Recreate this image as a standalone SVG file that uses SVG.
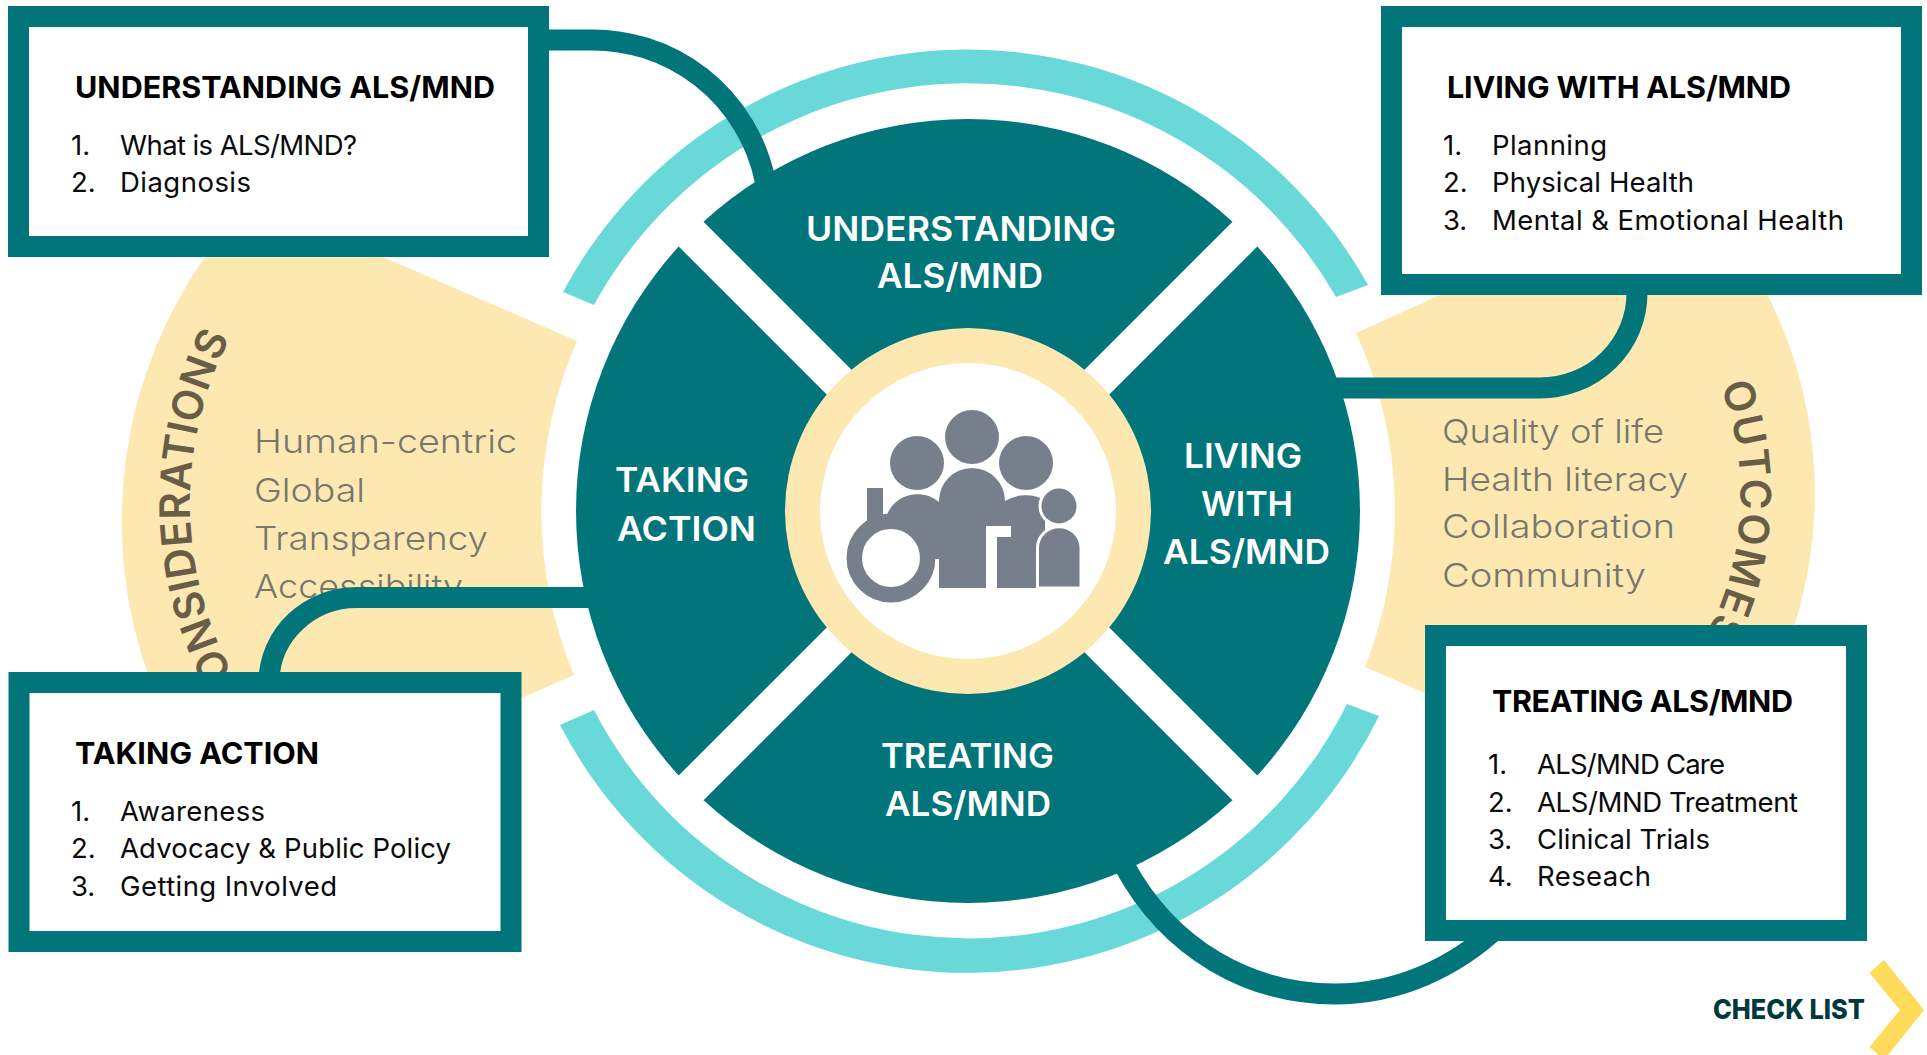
<svg xmlns="http://www.w3.org/2000/svg" width="1927" height="1055" viewBox="0 0 1927 1055">
<style>
text{font-family:Inter,"Noto Sans","Liberation Sans",sans-serif}
.cream{fill:#FEE8B2}
.ring{fill:#69D8D8}
.sector{fill:#01757A}
.disc{fill:#fff;font-size:34px;font-weight:600}
.box{fill:#fff;stroke:#01757A;stroke-width:21}
.title{fill:#000;font-size:30.5px;font-weight:650}
.item{fill:#0a0a0a;font-size:27.5px;font-weight:400}
.soft{fill:#76776D;font-size:33px;font-weight:300}
.curve{fill:#695D47;font-size:42px;font-weight:600}
.conn{fill:none;stroke:#01757A;stroke-width:21}
.icon{fill:#777F8C}
</style>
<defs>
<path id="arcL" d="M297 760A362 362 0 0 1 233 332"/>
<path id="arcR" d="M1718 380A304 304 0 0 1 1661 700"/>
</defs>
<g id="considerations">
<path class="cream" d="M577 341L367 250L210 250A460 460 0 0 0 150 680L505 705L574 675A426 426 0 0 1 577 341Z"/>
<text class="curve" letter-spacing="0.5"><textPath href="#arcL" startOffset="98.700%" text-anchor="end">CONSIDERATIONS</textPath></text>
<text class="soft" x="254" y="453" textLength="263" lengthAdjust="spacingAndGlyphs">Human-centric</text>
<text class="soft" x="254" y="502" textLength="111" lengthAdjust="spacingAndGlyphs">Global</text>
<text class="soft" x="254" y="550" textLength="234" lengthAdjust="spacingAndGlyphs">Transparency</text>
<text class="soft" x="254" y="598" textLength="209" lengthAdjust="spacingAndGlyphs">Accessibility</text>
</g>
<g id="outcomes">
<path class="cream" d="M1356 333L1440 295L1450 288L1764 288A440 440 0 0 1 1793 630L1450 700L1425 693L1365 667A426 426 0 0 0 1356 333Z"/>
<text class="curve" letter-spacing="2"><textPath href="#arcR" startOffset="6">OUTCOMES</textPath></text>
<text class="soft" x="1442" y="443" textLength="222" lengthAdjust="spacingAndGlyphs">Quality of life</text>
<text class="soft" x="1442" y="491" textLength="246" lengthAdjust="spacingAndGlyphs">Health literacy</text>
<text class="soft" x="1442" y="538" textLength="233" lengthAdjust="spacingAndGlyphs">Collaboration</text>
<text class="soft" x="1442" y="587" textLength="204" lengthAdjust="spacingAndGlyphs">Community</text>
</g>
<g id="outer-ring">
<path class="ring" d="M563 292A458.5 458.5 0 0 1 1368 285L1336 297A425 425 0 0 0 594 305Z"/>
<path class="ring" d="M560 725A458.5 458.5 0 0 0 1379 716L1347 704A422 422 0 0 1 594 710Z"/>
</g>
<g id="sector-understanding">
<path class="sector" d="M703.5 221.7A392 392 0 0 1 1232.5 221.7L968 486.25Z"/>
</g>
<g id="sector-living">
<path class="sector" d="M1257.3 246.5A392 392 0 0 1 1257.3 775.5L992.75 511Z"/>
</g>
<g id="sector-treating">
<path class="sector" d="M1232.5 800.3A392 392 0 0 1 703.5 800.3L968 535.75Z"/>
</g>
<g id="sector-taking">
<path class="sector" d="M678.7 775.5A392 392 0 0 1 678.7 246.5L943.25 511Z"/>
</g>
<g id="center">
<circle cx="968" cy="511" r="183" fill="#FEE8B2"/>
<circle cx="968" cy="511" r="148" fill="#fff"/>
<g id="people-icon">
<circle class="icon" cx="972" cy="437" r="27"/>
<circle class="icon" cx="917" cy="463" r="27"/>
<circle class="icon" cx="1026" cy="463" r="27"/>
<rect class="icon" x="867" y="488" width="16" height="36"/>
<path class="icon" d="M883 515H887A32 30 0 0 1 939 502V559H936L891 558L883 522Z"/>
<path class="icon" d="M939 588V501A33 33 0 0 1 1005 501A32 24 0 0 1 1045 500V588H997V537H1011V526H986V588Z"/>
<circle cx="891" cy="558" r="36.7" fill="#fff" stroke="#777F8C" stroke-width="15.5"/>
<path class="icon" d="M1037.5 591V548A21.5 21 0 0 1 1081 548V588H1038" stroke="#fff" stroke-width="3"/>
<rect x="1034" y="588" width="50" height="6" fill="#fff"/>
<circle class="icon" cx="1059" cy="506" r="19" stroke="#fff" stroke-width="3"/>
</g>
</g>
<g id="connectors">
<path class="conn" d="M540 40H587A176 176 0 0 1 765 180"/>
<path class="conn" d="M1637 285V293A97 95 0 0 1 1540 388H1335"/>
<path class="conn" d="M600 597.5H357A88 85 0 0 0 269 680"/>
<path class="conn" d="M1124 865C1170 950 1250 994 1335 994C1397 994 1455 968 1500 925"/>
</g>
<g id="sector-labels">
<text class="disc" x="806" y="240.500" textLength="310" lengthAdjust="spacingAndGlyphs">UNDERSTANDING</text>
<text class="disc" x="877" y="288" textLength="166" lengthAdjust="spacingAndGlyphs">ALS/MND</text>
<text class="disc" x="615" y="491.500" textLength="134" lengthAdjust="spacingAndGlyphs">TAKING</text>
<text class="disc" x="617" y="540.500" textLength="139" lengthAdjust="spacingAndGlyphs">ACTION</text>
<text class="disc" x="1184" y="467.500" textLength="118" lengthAdjust="spacingAndGlyphs">LIVING</text>
<text class="disc" x="1201" y="515.500" textLength="92" lengthAdjust="spacingAndGlyphs">WITH</text>
<text class="disc" x="1163" y="564" textLength="167" lengthAdjust="spacingAndGlyphs">ALS/MND</text>
<text class="disc" x="881" y="767.500" textLength="173" lengthAdjust="spacingAndGlyphs">TREATING</text>
<text class="disc" x="885" y="816" textLength="166" lengthAdjust="spacingAndGlyphs">ALS/MND</text>
</g>
<g id="box-understanding">
<rect class="box" x="18.5" y="16.5" width="520" height="230"/>
<text class="title" x="75" y="98" textLength="420">UNDERSTANDING ALS/MND</text>
<text class="item" x="71" y="155">1.</text><text class="item" x="120" y="155" textLength="237">What is ALS/MND?</text>
<text class="item" x="71" y="192">2.</text><text class="item" x="120" y="192" textLength="131">Diagnosis</text>
</g>
<g id="box-living">
<rect class="box" x="1391.5" y="16.5" width="520" height="268"/>
<text class="title" x="1447" y="98" textLength="344">LIVING WITH ALS/MND</text>
<text class="item" x="1443" y="155">1.</text><text class="item" x="1492" y="155" textLength="115">Planning</text>
<text class="item" x="1443" y="192">2.</text><text class="item" x="1492" y="192" textLength="202">Physical Health</text>
<text class="item" x="1443" y="230">3.</text><text class="item" x="1492" y="230" textLength="352">Mental &amp; Emotional Health</text>
</g>
<g id="box-taking">
<rect class="box" x="19" y="682.5" width="492" height="259"/>
<text class="title" x="75" y="763.500" textLength="244">TAKING ACTION</text>
<text class="item" x="71" y="821">1.</text><text class="item" x="120" y="821" textLength="145">Awareness</text>
<text class="item" x="71" y="858">2.</text><text class="item" x="120" y="858" textLength="331">Advocacy &amp; Public Policy</text>
<text class="item" x="71" y="896">3.</text><text class="item" x="120" y="896" textLength="217">Getting Involved</text>
</g>
<g id="box-treating">
<rect class="box" x="1435.5" y="635.5" width="421" height="295"/>
<text class="title" x="1492" y="712" textLength="301">TREATING ALS/MND</text>
<text class="item" x="1488" y="773.500">1.</text><text class="item" x="1537" y="773.500" textLength="188">ALS/MND Care</text>
<text class="item" x="1488" y="812">2.</text><text class="item" x="1537" y="812" textLength="261">ALS/MND Treatment</text>
<text class="item" x="1488" y="849">3.</text><text class="item" x="1537" y="849" textLength="173">Clinical Trials</text>
<text class="item" x="1488" y="886">4.</text><text class="item" x="1537" y="886" textLength="114">Reseach</text>
</g>
<g id="check-list">
<text x="1713" y="1019" font-size="27" font-weight="800" fill="#00383C" textLength="152" lengthAdjust="spacingAndGlyphs">CHECK LIST</text>
<path fill="#FFDB5C" d="M1884 960L1924 1010L1884 1060L1869.5 1047L1900 1010L1869.5 973Z"/>
</g>
</svg>
